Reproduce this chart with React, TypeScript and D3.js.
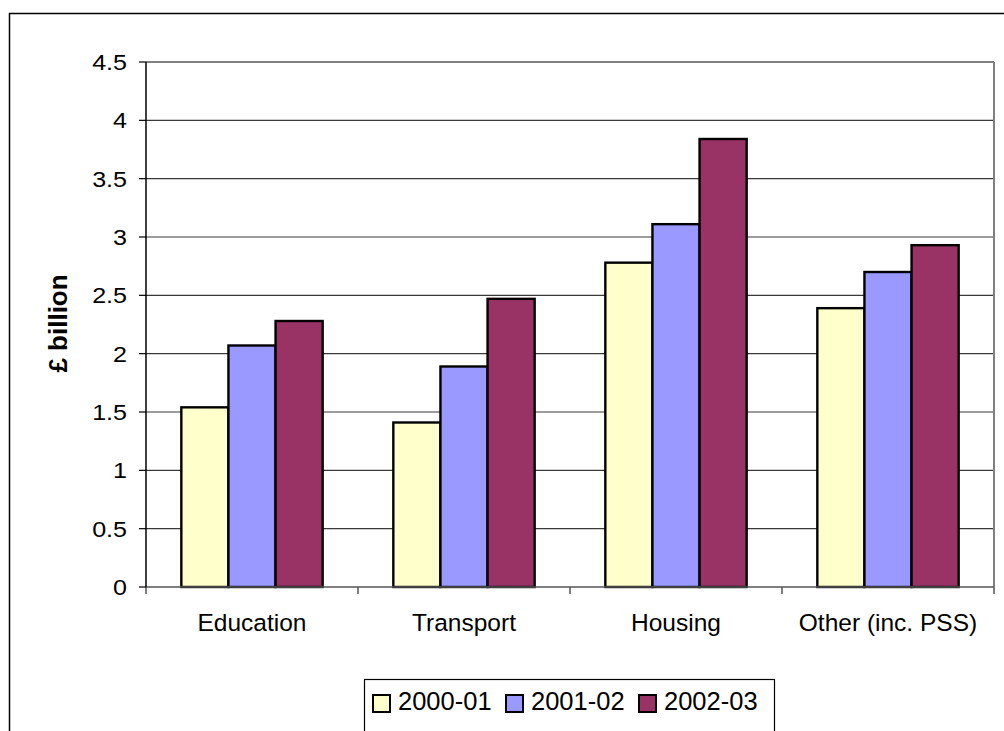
import React from "react";
import * as d3 from "d3";

const categories = ["Education", "Transport", "Housing", "Other (inc. PSS)"];
const seriesNames = ["2000-01", "2001-02", "2002-03"];
const values2000 = [1.54, 1.41, 2.78, 2.39];
const values2001 = [2.07, 1.89, 3.11, 2.7];
const values2002 = [2.28, 2.47, 3.84, 2.93];
const seriesColors = ["#FFFFCC", "#9999FF", "#993366"];
const yTicks = [0, 0.5, 1, 1.5, 2, 2.5, 3, 3.5, 4, 4.5];
const yLabel = "£ billion";

const W = 1004;
const H = 731;
const plot = { left: 146, right: 994, top: 62, bottom: 587 };
const FONT = "'Liberation Sans', Arial, Helvetica, sans-serif";

export default function App() {
  const series = [values2000, values2001, values2002];
  const x0 = d3.scaleBand<string>().domain(categories).range([plot.left, plot.right]).padding(0);
  const x1 = d3
    .scaleBand<string>()
    .domain(seriesNames)
    .range([0, x0.bandwidth()])
    .paddingInner(0)
    .paddingOuter(0.75);
  const y = d3.scaleLinear().domain([0, 4.5]).range([plot.bottom, plot.top]);
  const fmt = (v: number) => String(v);

  const boundaries = [...categories.map((c) => x0(c)!), plot.right];

  return (
    <svg
      width={W}
      height={H}
      style={{ position: "absolute", left: 0, top: 0, background: "#fff" }}
      fontFamily={FONT}
    >
      <rect x={0} y={0} width={W} height={H} fill="#fff" />
      {/* outer chart frame */}
      <rect x={9.5} y={13.5} width={1100} height={800} fill="none" stroke="#000" strokeWidth={1.5} />

      {/* gridlines */}
      {yTicks.slice(1).map((t) => (
        <line
          key={"g" + t}
          x1={plot.left}
          x2={plot.right}
          y1={y(t)}
          y2={y(t)}
          stroke={t === 4.5 ? "#808080" : "#3a3a3a"}
          strokeWidth={t === 4.5 ? 2 : 1.2}
        />
      ))}
      {/* right border of plot */}
      <line x1={plot.right} x2={plot.right} y1={plot.top} y2={plot.bottom} stroke="#808080" strokeWidth={2} />

      {/* bars */}
      {categories.map((c, ci) => (
        <g key={c} transform={`translate(${x0(c)},0)`}>
          {seriesNames.map((s, si) => {
            const v = series[si][ci];
            return (
              <rect
                key={s}
                x={x1(s)}
                y={y(v)}
                width={x1.bandwidth()}
                height={y(0) - y(v)}
                fill={seriesColors[si]}
                stroke="#000"
                strokeWidth={2.4}
              />
            );
          })}
        </g>
      ))}

      {/* x axis */}
      <line x1={plot.left} x2={plot.right} y1={plot.bottom} y2={plot.bottom} stroke="#555" strokeWidth={1.5} />
      {boundaries.map((b, i) => (
        <line key={"xt" + i} x1={b} x2={b} y1={plot.bottom} y2={plot.bottom + 7} stroke="#555" strokeWidth={1.5} />
      ))}
      {categories.map((c) => (
        <text
          key={"xl" + c}
          x={x0(c)! + x0.bandwidth() / 2}
          y={631}
          textAnchor="middle"
          fontSize={24.5}
          fill="#000"
        >
          {c}
        </text>
      ))}

      {/* y axis */}
      <line x1={plot.left} x2={plot.left} y1={plot.top} y2={plot.bottom} stroke="#000" strokeWidth={1.5} />
      {yTicks.map((t) => (
        <g key={"yt" + t}>
          <line x1={plot.left - 7} x2={plot.left} y1={y(t)} y2={y(t)} stroke="#000" strokeWidth={1.2} />
          <text
            transform={`translate(127,${y(t) + 8}) scale(1.14,1)`}
            textAnchor="end"
            fontSize={22}
            fill="#000"
          >
            {fmt(t)}
          </text>
        </g>
      ))}
      <text
        transform={`translate(67,${(plot.top + plot.bottom) / 2 - 1}) rotate(-90)`}
        textAnchor="middle"
        fontSize={26}
        fontWeight="bold"
        fill="#000"
      >
        {yLabel}
      </text>

      {/* legend */}
      <rect x={364.5} y={679.5} width={410} height={80} fill="#fff" stroke="#000" strokeWidth={1.2} />
      {seriesNames.map((s, i) => (
        <g key={"lg" + s} transform={`translate(${373 + i * 133},0)`}>
          <rect x={0} y={695} width={17} height={17} fill={seriesColors[i]} stroke="#000" strokeWidth={2} />
          <text x={25} y={710} fontSize={25.5} fill="#000">
            {s}
          </text>
        </g>
      ))}
    </svg>
  );
}
